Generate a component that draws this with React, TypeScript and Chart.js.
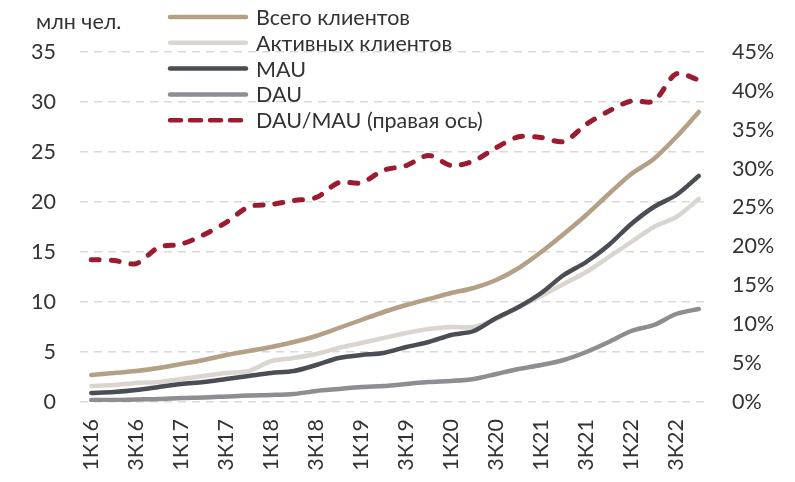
import React, { useEffect, useRef } from 'react';
import { Chart, registerables } from 'chart.js';

Chart.register(...registerables);

const quarters = [
  '1К16', '2К16', '3К16', '4К16',
  '1К17', '2К17', '3К17', '4К17',
  '1К18', '2К18', '3К18', '4К18',
  '1К19', '2К19', '3К19', '4К19',
  '1К20', '2К20', '3К20', '4К20',
  '1К21', '2К21', '3К21', '4К21',
  '1К22', '2К22', '3К22', '4К22',
];

const totalClients = [2.7, 2.9, 3.1, 3.4, 3.8, 4.2, 4.7, 5.1, 5.5, 6.0, 6.6, 7.4, 8.2, 9.0, 9.7, 10.3, 10.9, 11.4, 12.2, 13.4, 15.0, 16.8, 18.7, 20.8, 22.8, 24.3, 26.5, 29.0];
const activeClients = [1.6, 1.7, 1.9, 2.0, 2.3, 2.6, 2.9, 3.1, 4.1, 4.4, 4.8, 5.4, 5.9, 6.4, 6.9, 7.3, 7.5, 7.5, 8.3, 9.5, 10.6, 11.8, 13.0, 14.5, 16.0, 17.5, 18.5, 20.3];
const mau = [0.9, 1.0, 1.2, 1.5, 1.8, 2.0, 2.3, 2.6, 2.9, 3.1, 3.7, 4.4, 4.7, 4.9, 5.5, 6.0, 6.7, 7.1, 8.4, 9.5, 10.9, 12.7, 14.0, 15.7, 17.8, 19.5, 20.7, 22.6];
const dau = [0.2, 0.2, 0.25, 0.3, 0.4, 0.45, 0.55, 0.65, 0.7, 0.8, 1.1, 1.3, 1.5, 1.6, 1.8, 2.0, 2.1, 2.3, 2.8, 3.3, 3.7, 4.2, 5.0, 6.0, 7.1, 7.7, 8.8, 9.3];
const dauMauPct = [18.3, 18.2, 17.8, 19.9, 20.3, 21.5, 23.1, 25.1, 25.4, 25.9, 26.3, 28.2, 28.2, 29.8, 30.4, 31.7, 30.4, 31.0, 32.7, 34.1, 34.0, 33.5, 35.7, 37.4, 38.7, 38.7, 42.2, 41.4];

const seriesNames = ['Всего клиентов', 'Активных клиентов', 'MAU', 'DAU', 'DAU/MAU (правая ось)'];
const unitLabel = 'млн чел.';

const COLORS = ['#b3a086', '#dbd5d0', '#4a4d53', '#8d8d92', '#9b1b30'];
const TEXT = '#333333';
const FONT = 'Lato, "Open Sans", sans-serif';
const FS = 21.5;

export default function App() {
  const ref = useRef<HTMLCanvasElement>(null);

  useEffect(() => {
    if (!ref.current) return;

    const legendPlugin = {
      id: 'customLegend',
      afterDraw(chart: any) {
        const ctx = chart.ctx as CanvasRenderingContext2D;
        ctx.save();
        ctx.font = `${FS}px ${FONT}`;
        ctx.fillStyle = TEXT;
        ctx.textBaseline = 'middle';
        ctx.textAlign = 'left';
        ctx.fillText(unitLabel, 36, 22);
        seriesNames.forEach((name, k) => {
          const y = 17 + k * 25.8;
          ctx.beginPath();
          ctx.lineWidth = 4.5;
          ctx.strokeStyle = COLORS[k];
          ctx.lineCap = 'round';
          ctx.setLineDash(k === 4 ? [11, 9] : []);
          ctx.moveTo(170, y);
          ctx.lineTo(246, y);
          ctx.stroke();
          ctx.setLineDash([]);
          ctx.fillStyle = TEXT;
          ctx.fillText(name, 256, y + 1);
        });
        ctx.restore();
      },
    };

    const values = [totalClients, activeClients, mau, dau];
    const datasets: any[] = values.map((v, k) => ({
      label: seriesNames[k],
      data: v,
      borderColor: COLORS[k],
      backgroundColor: COLORS[k],
      borderWidth: 4.5,
      pointRadius: 0,
      tension: 0.3,
      yAxisID: 'y',
      order: k === 2 ? 2 : 3,
      borderCapStyle: 'round',
    }));
    datasets.push({
      label: seriesNames[4],
      data: dauMauPct,
      borderColor: COLORS[4],
      backgroundColor: COLORS[4],
      borderWidth: 5,
      borderDash: [8, 12],
      borderCapStyle: 'round',
      pointRadius: 0,
      tension: 0.3,
      yAxisID: 'y1',
      order: 0,
    });

    const chart = new Chart(ref.current, {
      type: 'line',
      data: { labels: quarters, datasets },
      plugins: [legendPlugin],
      options: {
        animation: false,
        responsive: true,
        maintainAspectRatio: false,
        layout: { padding: { top: 52, left: 0, right: 0, bottom: 0 } },
        plugins: {
          legend: { display: false },
          tooltip: { enabled: false },
        },
        scales: {
          x: {
            offset: true,
            grid: { display: false, drawTicks: false },
            border: { display: false },
            ticks: {
              autoSkip: false,
              maxRotation: 90,
              minRotation: 90,
              padding: 17,
              color: TEXT,
              font: { family: FONT, size: FS },
              callback: (_v: any, i: number) => (i % 2 === 0 ? quarters[i] : ''),
            },
            afterFit: (axis: any) => { axis.height = 80; },
          },
          y: {
            position: 'left',
            min: 0,
            max: 35,
            grid: { color: '#d9d9d9', lineWidth: 1.5, drawTicks: false },
            border: { display: false, dash: [8, 6] },
            ticks: {
              stepSize: 5,
              padding: 24,
              color: TEXT,
              font: { family: FONT, size: FS },
            },
            afterFit: (axis: any) => { axis.width = 80; },
          },
          y1: {
            position: 'right',
            min: 0,
            max: 45,
            grid: { display: false, drawOnChartArea: false, drawTicks: false },
            border: { display: false },
            ticks: {
              stepSize: 5,
              padding: 22,
              color: TEXT,
              font: { family: FONT, size: FS },
              callback: (v: any) => `${v}%`,
            },
            afterFit: (axis: any) => { axis.width = 85; },
          },
        },
      },
    });

    return () => chart.destroy();
  }, []);

  return (
    <div style={{ position: 'fixed', left: 0, top: 0, width: 795, height: 482, background: '#fff' }}>
      <canvas ref={ref} />
    </div>
  );
}
